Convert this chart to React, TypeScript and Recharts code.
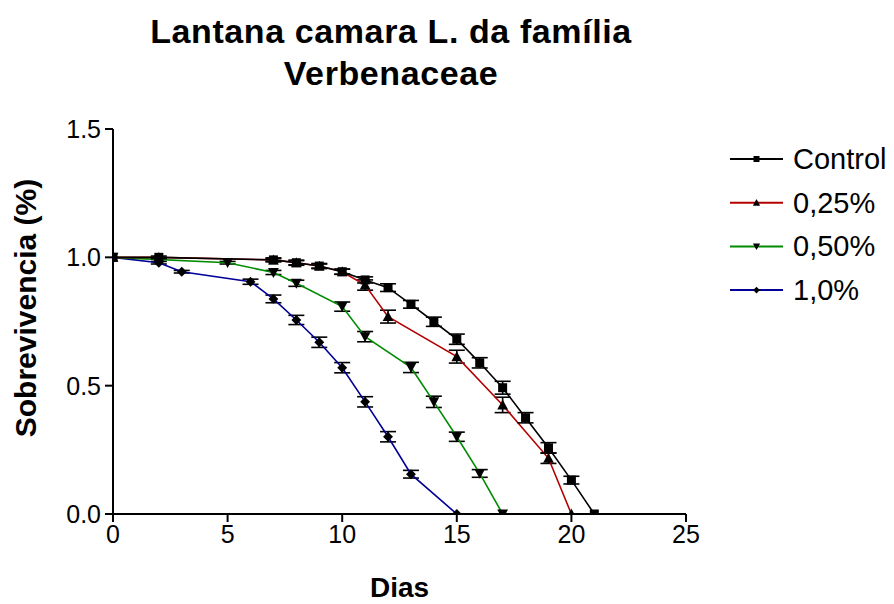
import { LineChart, Line, XAxis, YAxis, ErrorBar, Legend, Label } from 'recharts';

// dias e sobrevivência
const DAYS_CONTROL = [0, 2, 7, 8, 9, 10, 11, 12, 13, 14, 15, 16, 17, 18, 19, 20, 21];
const SURV_CONTROL = [1.0, 1.0, 0.99, 0.979, 0.966, 0.944, 0.912, 0.882, 0.817, 0.749, 0.681, 0.589, 0.492, 0.375, 0.258, 0.132, 0.0];
const ERR_CONTROL = [0, 0.005, 0.008, 0.01, 0.01, 0.01, 0.012, 0.015, 0.015, 0.018, 0.02, 0.02, 0.025, 0.02, 0.02, 0.015, 0];

const DAYS_025 = [0, 2, 7, 8, 9, 10, 11, 12, 15, 17, 19, 20];
const SURV_025 = [1.0, 1.0, 0.99, 0.979, 0.966, 0.944, 0.892, 0.769, 0.613, 0.425, 0.217, 0.0];
const ERR_025 = [0, 0, 0.005, 0.008, 0.008, 0.01, 0.02, 0.025, 0.025, 0.03, 0.02, 0];

const DAYS_050 = [0, 5, 7, 8, 10, 11, 13, 14, 15, 16, 17];
const SURV_050 = [1.0, 0.979, 0.941, 0.899, 0.808, 0.691, 0.571, 0.437, 0.301, 0.158, 0.0];
const ERR_050 = [0, 0.005, 0.008, 0.012, 0.018, 0.02, 0.02, 0.022, 0.018, 0.015, 0];

const DAYS_100 = [0, 2, 3, 6, 7, 8, 9, 10, 11, 12, 13, 15];
const SURV_100 = [1.0, 0.979, 0.944, 0.905, 0.838, 0.756, 0.669, 0.57, 0.437, 0.301, 0.155, 0.0];
const ERR_100 = [0, 0.005, 0.005, 0.01, 0.015, 0.018, 0.02, 0.02, 0.02, 0.02, 0.015, 0];

const X_TICKS = [0, 5, 10, 15, 20, 25];
const Y_TICKS = [0, 0.5, 1.0, 1.5];

const FONT = '"Liberation Sans", Arial, Helvetica, sans-serif';

type Shape = 'square' | 'triangle' | 'down' | 'diamond';

const toRows = (days: number[], surv: number[], err: number[]) =>
  days.map((d, i) => ({ x: d, y: surv[i], err: err[i] }));

const SERIES = [
  { name: 'Control', color: '#000000', shape: 'square' as Shape, data: toRows(DAYS_CONTROL, SURV_CONTROL, ERR_CONTROL) },
  { name: '0,25%', color: '#b40000', shape: 'triangle' as Shape, data: toRows(DAYS_025, SURV_025, ERR_025) },
  { name: '0,50%', color: '#008c00', shape: 'down' as Shape, data: toRows(DAYS_050, SURV_050, ERR_050) },
  { name: '1,0%', color: '#000096', shape: 'diamond' as Shape, data: toRows(DAYS_100, SURV_100, ERR_100) },
];

function marker(shape: Shape, cx: number, cy: number, r: number, key?: string) {
  if (shape === 'square') {
    return <rect key={key} x={cx - r} y={cy - r} width={2 * r} height={2 * r} fill="#000" />;
  }
  if (shape === 'triangle') {
    return <polygon key={key} points={`${cx},${cy - r * 1.2} ${cx + r * 1.2},${cy + r} ${cx - r * 1.2},${cy + r}`} fill="#000" />;
  }
  if (shape === 'down') {
    return <polygon key={key} points={`${cx},${cy + r * 1.2} ${cx + r * 1.2},${cy - r} ${cx - r * 1.2},${cy - r}`} fill="#000" />;
  }
  return <polygon key={key} points={`${cx},${cy - r * 1.1} ${cx + r * 1.1},${cy} ${cx},${cy + r * 1.1} ${cx - r * 1.1},${cy}`} fill="#000" />;
}

const dotFor = (shape: Shape) => (props: any) => {
  const { cx, cy, index } = props;
  if (cx == null || cy == null) return <g key={`e-${shape}-${index}`} />;
  return marker(shape, cx, cy, 4.5, `d-${shape}-${index}`);
};

function renderLegend() {
  return (
    <svg width={170} height={180}>
      {SERIES.map((s, i) => {
        const y = 20 + i * 43.7;
        return (
          <g key={s.name}>
            <line x1={5} x2={58} y1={y} y2={y} stroke={s.color} strokeWidth={2} />
            {marker(s.shape, 31.5, y, 3)}
            <text x={68} y={y} dominantBaseline="central" fontFamily={FONT} fontSize={29} fill="#000">
              {s.name}
            </text>
          </g>
        );
      })}
    </svg>
  );
}

export default function App() {
  return (
    <div style={{ position: 'absolute', left: 0, top: 0, width: 894, height: 604, background: '#fff' }}>
      <div
        style={{
          position: 'absolute',
          left: 0,
          width: 782,
          top: 10,
          textAlign: 'center',
          fontFamily: FONT,
          fontWeight: 'bold',
          fontSize: 34,
          letterSpacing: 0.6,
          lineHeight: '42px',
          color: '#000',
        }}
      >
        Lantana camara L. da família
        <br />
        Verbenaceae
      </div>
      <LineChart width={894} height={604} margin={{ top: 129, right: 208, bottom: 50, left: 53 }}>
        <XAxis
          type="number"
          dataKey="x"
          domain={[0, 25]}
          ticks={X_TICKS}
          allowDataOverflow
          height={40}
          tickSize={8}
          tickMargin={3}
          stroke="#000"
          strokeWidth={2}
          tick={{ fill: '#000', fontSize: 25, fontFamily: FONT }}
        >
          <Label
            content={(p: any) => {
              const vb = p.viewBox || { x: 113, width: 573, y: 514 };
              return (
                <text x={vb.x + vb.width / 2} y={597} textAnchor="middle" fontFamily={FONT} fontWeight="bold" fontSize={28} fill="#000">
                  Dias
                </text>
              );
            }}
          />
        </XAxis>
        <YAxis
          type="number"
          domain={[0, 1.5]}
          ticks={Y_TICKS}
          allowDataOverflow
          width={60}
          tickSize={8}
          tickMargin={4}
          stroke="#000"
          strokeWidth={2}
          tickFormatter={(v: number) => v.toFixed(1)}
          tick={{ fill: '#000', fontSize: 25, fontFamily: FONT }}
        >
          <Label
            content={() => (
              <text
                x={25}
                y={308}
                transform="rotate(-90 25 308)"
                textAnchor="middle"
                dominantBaseline="central"
                fontFamily={FONT}
                fontWeight="bold"
                fontSize={30}
                fill="#000"
              >
                Sobrevivencia (%)
              </text>
            )}
          />
        </YAxis>
        <Legend
          layout="vertical"
          align="center"
          verticalAlign="middle"
          content={renderLegend}
          wrapperStyle={{ left: 725, top: 139, width: 170, height: 180 }}
        />
        {[...SERIES].reverse().map((s) => (
          <Line
            key={s.name}
            name={s.name}
            data={s.data}
            dataKey="y"
            type="linear"
            stroke={s.color}
            strokeWidth={1.6}
            dot={dotFor(s.shape)}
            activeDot={false}
            isAnimationActive={false}
          >
            <ErrorBar dataKey="err" direction="y" width={8} stroke="#000" strokeWidth={1.6} />
          </Line>
        ))}
      </LineChart>
    </div>
  );
}
